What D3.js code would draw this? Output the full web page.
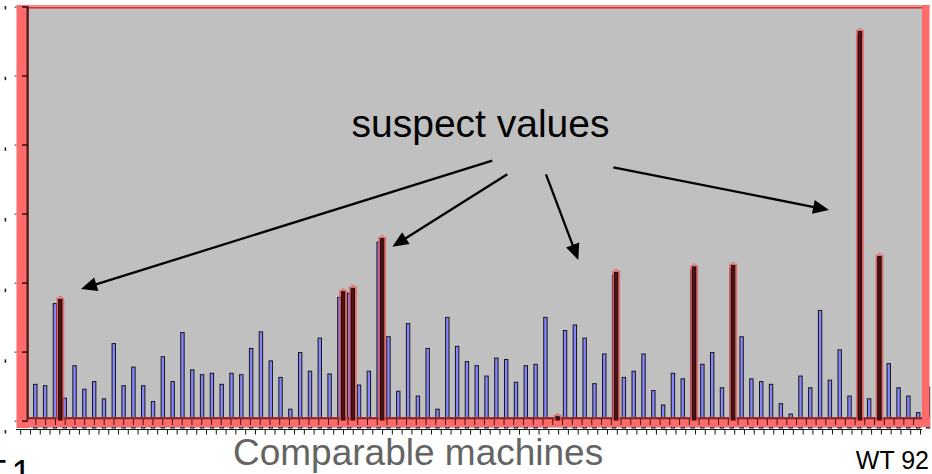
<!DOCTYPE html>
<html>
<head>
<meta charset="utf-8">
<script src="https://cdn.jsdelivr.net/npm/d3@7"></script>
<style>
  html, body { margin: 0; padding: 0; background: #ffffff; }
  svg { display: block; }
</style>
</head>
<body>
<script>
// ---------------- DATA ----------------
const categories = d3.range(1, 93).map(i => "WT " + i);   // 92 comparable machines
const values = [
  0.54, 0.52, 1.71, 0.34, 0.81, 0.47, 0.58, 0.33, 1.13, 0.52,
  0.79, 0.52, 0.29, 0.94, 0.58, 1.29, 0.75, 0.68, 0.70, 0.54,
  0.70, 0.68, 1.06, 1.30, 0.88, 0.64, 0.18, 1.00, 0.73, 1.21,
  0.69, 1.80, 1.86, 0.53, 0.73, 2.60, 1.23, 0.44, 1.42, 0.37,
  1.06, 0.18, 1.51, 1.09, 0.87, 0.81, 0.66, 0.92, 0.90, 0.57,
  0.81, 0.83, 1.51, null, 1.32, 1.40, 1.21, 0.55, 0.98, 2.12,
  0.64, 0.73, 0.98, 0.45, 0.24, 0.70, 0.62, 2.20, 0.83, 1.00,
  0.49, 2.22, 1.23, 0.62, 0.58, 0.54, 0.26, 0.11, 0.66, 0.49,
  1.61, 0.60, 1.04, 0.37, 5.60, 0.33, 2.35, 0.84, 0.49, 0.37,
  0.13, 0.50
];
const suspectMachines = ["WT 3", "WT 32", "WT 33", "WT 36", "WT 54", "WT 60", "WT 68", "WT 72", "WT 85", "WT 87"];
const suspectValues   = [1.79, 1.90, 1.95, 2.67, 0.09, 2.18, 2.26, 2.28, 5.67, 2.41];
const yTicks = [0, 1, 2, 3, 4, 5, 6];
const annotationText = "suspect values";
const xTitle = "Comparable machines";
const firstLabel = "WT 1";
const lastLabel = "WT 92";

// ---------------- LAYOUT ----------------
const W = 932, H = 474;
const plot = { left: 29, right: 922, top: 8, bottom: 428 };
const PINK = "#ff6b6b";
const FONT = "Liberation Sans, Arial, sans-serif";

const svg = d3.select("body").append("svg").attr("width", W).attr("height", H);

const xBlue = d3.scaleBand().domain(categories).range([30.4, 932.9]);
const xRed  = d3.scaleBand().domain(categories).range([35.92, 933.1]);
const y = d3.scaleLinear().domain([-0.1, 6]).range([plot.bottom, 7]);
const yLabels = d3.scaleLinear().domain([0, 6]).range([432, 8]);
const xOuter = d3.scalePoint().domain(d3.range(0, 93)).range([20.7, 920.5]);

// plot background
svg.append("rect")
  .attr("x", plot.left).attr("y", plot.top)
  .attr("width", plot.right - plot.left).attr("height", plot.bottom - plot.top)
  .attr("fill", "#c0c0c0");

// blue bars
const blueData = categories.map((c, i) => ({ c, v: values[i] })).filter(d => d.v !== null);
svg.append("g").selectAll("rect").data(blueData).join("rect")
  .attr("x", d => xBlue(d.c) + xBlue.bandwidth() / 2 - 1.7)
  .attr("width", 3.4)
  .attr("y", d => y(d.v) + 0.5)
  .attr("height", d => plot.bottom - y(d.v) - 0.5)
  .attr("fill", "#8585ff")
  .attr("stroke", "#161616")
  .attr("stroke-width", 1);

// bottom band (axis area highlight)
svg.append("rect").attr("x", 17).attr("y", 417).attr("width", 913).attr("height", 10).attr("fill", PINK);
svg.append("line").attr("x1", 26).attr("x2", plot.right).attr("y1", 418.3).attr("y2", 418.3)
  .attr("stroke", "#7a2626").attr("stroke-width", 2);

// inner ticks (in band)
const innerTicks = d3.range(0, 92).map(i => 26.17 + i * xRed.step());
svg.append("g").selectAll("line").data(innerTicks).join("line")
  .attr("x1", d => d).attr("x2", d => d).attr("y1", 419).attr("y2", 425)
  .attr("stroke", "#3a1414").attr("stroke-width", 1);

// suspect (red) overlay bars
const redData = suspectMachines.map((c, i) => ({ c, v: suspectValues[i] }));
const rg = svg.append("g");
rg.selectAll("rect.outer").data(redData).join("rect")
  .attr("class", "outer")
  .attr("x", d => xRed(d.c) + xRed.bandwidth() / 2 - 4)
  .attr("width", 8)
  .attr("y", d => y(d.v))
  .attr("height", d => 421 - y(d.v))
  .attr("fill", "rgba(235,80,80,0.72)");
rg.selectAll("rect.inner").data(redData).join("rect")
  .attr("class", "inner")
  .attr("x", d => xRed(d.c) + xRed.bandwidth() / 2 - 1.7)
  .attr("width", 3.4)
  .attr("y", d => y(d.v) + 1.8)
  .attr("height", d => 420 - y(d.v) - 1.8)
  .attr("fill", "#4a1414")
  .attr("stroke", "#120404")
  .attr("stroke-width", 0.8);
// small caps above suspect bars
rg.selectAll("line.cap").data(redData).join("line")
  .attr("class", "cap")
  .attr("x1", d => xRed(d.c) + xRed.bandwidth() / 2 - 1.5)
  .attr("x2", d => xRed(d.c) + xRed.bandwidth() / 2 + 1.5)
  .attr("y1", d => y(d.v) - 1).attr("y2", d => y(d.v) - 1)
  .attr("stroke", "#e85a5a").attr("stroke-width", 1);

// left, top, right highlight borders
svg.append("rect").attr("x", 16.5).attr("y", 5).attr("width", 12.5).attr("height", 423).attr("fill", PINK);
svg.append("rect").attr("x", 17).attr("y", 5).attr("width", 912.5).attr("height", 3.5).attr("fill", PINK).attr("opacity", 0.8);
svg.append("line").attr("x1", 26).attr("x2", plot.right).attr("y1", 7.8).attr("y2", 7.8)
  .attr("stroke", "#c23c3c").attr("stroke-width", 1.5);
svg.append("rect").attr("x", plot.right).attr("y", 5).attr("width", 7.5).attr("height", 422).attr("fill", PINK);

// y axis line + inner ticks
svg.append("line").attr("x1", 27.6).attr("x2", 27.6).attr("y1", 6.5).attr("y2", 420)
  .attr("stroke", "#4a1a1a").attr("stroke-width", 2.2);
svg.append("g").selectAll("line").data(yTicks).join("line")
  .attr("x1", 22).attr("x2", 28).attr("y1", d => y(d)).attr("y2", d => y(d))
  .attr("stroke", "#3a1414").attr("stroke-width", 1.6);
svg.append("g").selectAll("rect").data(yTicks).join("rect")
  .attr("x", 14.5).attr("y", d => y(d) - 0.5).attr("width", 2).attr("height", 1.2)
  .attr("fill", "#555");

// clipped tick-label remnants at far left
svg.append("g").selectAll("rect").data(yTicks).join("rect")
  .attr("x", 4.6).attr("y", d => yLabels(d) - 2).attr("width", 1.6).attr("height", 3.5)
  .attr("fill", "#222");

// outer x axis (below band)
svg.append("line").attr("x1", 16).attr("x2", plot.right).attr("y1", 429.5).attr("y2", 429.5)
  .attr("stroke", "#111").attr("stroke-width", 1);
svg.append("g").selectAll("line").data(xOuter.domain()).join("line")
  .attr("x1", d => xOuter(d)).attr("x2", d => xOuter(d))
  .attr("y1", 429.5).attr("y2", 434.5)
  .attr("stroke", "#111").attr("stroke-width", 1);

// texts
svg.append("text").attr("x", 233).attr("y", 465)
  .attr("font-family", FONT).attr("font-size", 37)
  .attr("fill", "#646464").text(xTitle);
svg.append("text").attr("x", 929).attr("y", 468.5).attr("text-anchor", "end")
  .attr("font-family", FONT).attr("font-size", 25)
  .attr("fill", "#000").text(lastLabel);
svg.append("text").attr("x", 31.6).attr("y", 486).attr("text-anchor", "end")
  .attr("word-spacing", -4)
  .attr("font-family", FONT).attr("font-size", 36)
  .attr("fill", "#000").text(firstLabel);
svg.append("text").attr("x", 351.5).attr("y", 137)
  .attr("font-family", FONT).attr("font-size", 39)
  .attr("fill", "#000").text(annotationText);

// arrows
const arrows = [
  { from: [492.3, 160.7], to: [81, 289] },
  { from: [507.3, 174.3], to: [392.3, 246.7] },
  { from: [546, 174.3], to: [578.3, 260] },
  { from: [613.3, 167.3], to: [829, 210] }
];
const ag = svg.append("g");
arrows.forEach(a => {
  const [x1, y1] = a.from, [x2, y2] = a.to;
  const dx = x2 - x1, dy = y2 - y1, len = Math.hypot(dx, dy);
  const ux = dx / len, uy = dy / len;
  const headL = 16, headW = 7;
  const bx = x2 - ux * headL, by = y2 - uy * headL;
  ag.append("line").attr("x1", x1).attr("y1", y1).attr("x2", bx + ux * 2).attr("y2", by + uy * 2)
    .attr("stroke", "#000").attr("stroke-width", 2.3);
  ag.append("polygon")
    .attr("points", [[x2, y2], [bx - uy * headW, by + ux * headW], [bx + uy * headW, by - ux * headW]]
      .map(p => p.join(",")).join(" "))
    .attr("fill", "#000");
});
</script>
</body>
</html>
